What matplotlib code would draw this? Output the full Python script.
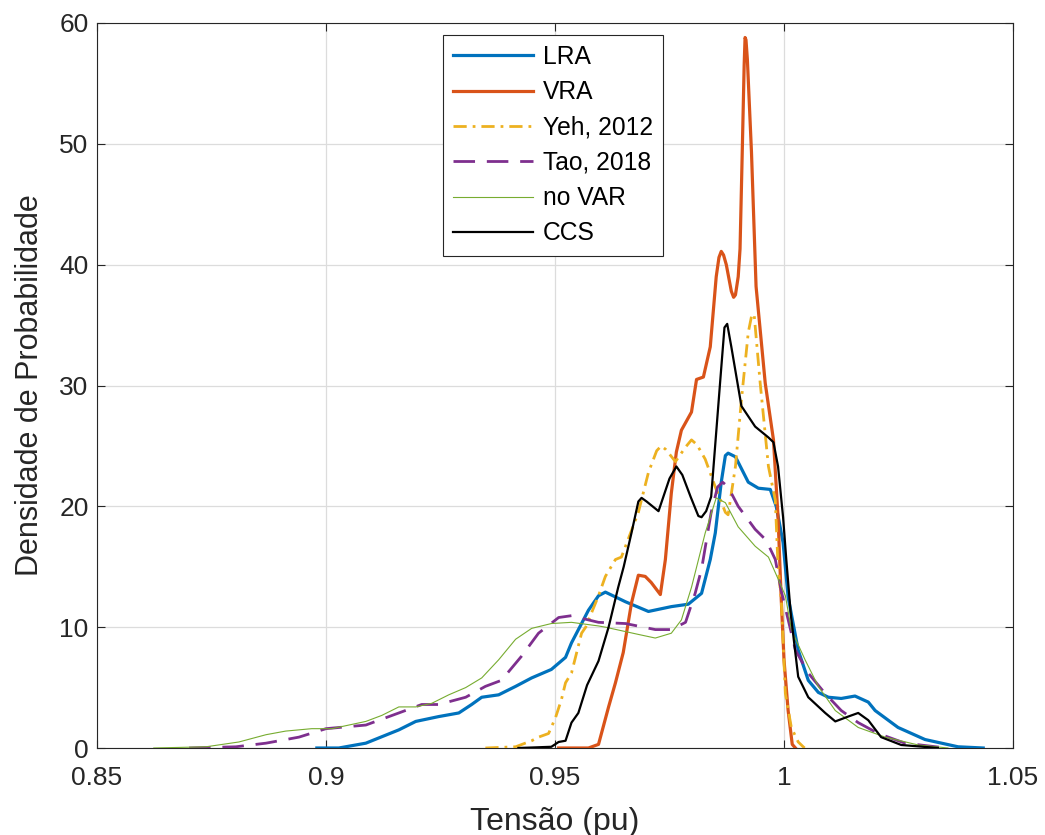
import matplotlib
matplotlib.use("Agg")
import matplotlib.pyplot as plt

plt.rcParams['font.family'] = ['Liberation Sans', 'DejaVu Sans']
plt.rcParams['lines.scale_dashes'] = False
plt.rcParams['lines.solid_joinstyle'] = 'round'
plt.rcParams['lines.dash_joinstyle'] = 'round'

# Estimated probability density of bus voltage (pu) for each method
lra_x = [0.8980, 0.9028, 0.9087, 0.9159, 0.9196, 0.9246, 0.9290, 0.9318, 0.9340,
         0.9377, 0.9414, 0.9449, 0.9492, 0.9523, 0.9536, 0.9558, 0.9573, 0.9595,
         0.9610, 0.9654, 0.9704, 0.9754, 0.9791, 0.9820, 0.9839, 0.9850, 0.9863,
         0.9872, 0.9878, 0.9894, 0.9922, 0.9944, 0.9970, 0.9983, 0.9998, 1.0009,
         1.0031, 1.0053, 1.0075, 1.0097, 1.0125, 1.0155, 1.0184, 1.0199, 1.0249,
         1.0308, 1.0380, 1.0435]
lra_y = [0.0, 0.0, 0.4, 1.5, 2.2, 2.6, 2.9, 3.6, 4.2,
         4.4, 5.1, 5.8, 6.5, 7.5, 8.7, 10.3, 11.4, 12.6,
         12.9, 12.1, 11.3, 11.7, 11.9, 12.8, 15.6, 17.8, 22.0,
         24.2, 24.4, 24.1, 22.0, 21.5, 21.4, 20.0, 17.0, 12.5,
         8.1, 5.6, 4.6, 4.2, 4.1, 4.3, 3.8, 3.1, 1.7,
         0.7, 0.1, 0.0]

vra_x = [0.9508, 0.9573, 0.9595, 0.9617, 0.9632, 0.9649, 0.9667, 0.9682, 0.9697,
         0.9710, 0.9730, 0.9741, 0.9754, 0.9765, 0.9776, 0.9798, 0.9809, 0.9824,
         0.9839, 0.9852, 0.9858, 0.9863, 0.9868, 0.9874, 0.9885, 0.9890, 0.9894,
         0.9900, 0.9904, 0.9909, 0.9913, 0.9915, 0.9917, 0.9920, 0.9929, 0.9939,
         0.9959, 0.9977, 0.9987, 0.9994, 1.0000, 1.0009, 1.0018, 1.0025]
vra_y = [0.0, 0.0, 0.3, 3.4, 5.4, 7.9, 12.0, 14.3, 14.2,
         13.7, 12.7, 15.6, 21.1, 24.5, 26.3, 27.8, 30.5, 30.7,
         33.2, 39.0, 40.6, 41.1, 40.8, 40.0, 37.8, 37.3, 37.5,
         39.0, 41.3, 49.6, 56.5, 58.8, 58.6, 57.0, 49.3, 38.2,
         30.2, 25.5, 19.1, 12.3, 7.3, 3.1, 0.3, 0.0]

yeh_x = [0.9348, 0.9414, 0.9449, 0.9464, 0.9486, 0.9501, 0.9514, 0.9523, 0.9536,
         0.9558, 0.9567, 0.9595, 0.9610, 0.9632, 0.9645, 0.9682, 0.9704, 0.9722,
         0.9732, 0.9742, 0.9763, 0.9785, 0.9798, 0.9810, 0.9828, 0.9850, 0.9872,
         0.9878, 0.9894, 0.9907, 0.9922, 0.9930, 0.9935, 0.9948, 0.9966, 0.9981,
         0.9987, 0.9994, 1.0003, 1.0016, 1.0031, 1.0042, 1.0045]
yeh_y = [0.0, 0.1, 0.6, 0.9, 1.2, 2.5, 4.0, 5.4, 6.2,
         9.5, 10.0, 12.6, 14.2, 15.6, 15.8, 19.5, 22.8, 24.6,
         25.0, 24.7, 23.7, 24.9, 25.5, 25.1, 23.9, 21.6, 19.5,
         19.3, 23.3, 28.8, 34.4, 35.9, 35.8, 30.2, 23.3, 20.5,
         15.0, 12.3, 4.5, 1.7, 0.5, 0.1, 0.0]

tao_x = [0.8701, 0.8803, 0.8869, 0.8941, 0.9000, 0.9087, 0.9159, 0.9209, 0.9246,
         0.9305, 0.9348, 0.9383, 0.9427, 0.9464, 0.9508, 0.9536, 0.9573, 0.9595,
         0.9654, 0.9719, 0.9754, 0.9785, 0.9806, 0.9820, 0.9841, 0.9855, 0.9866,
         0.9878, 0.9900, 0.9937, 0.9961, 0.9981, 0.9994, 1.0025, 1.0053, 1.0090,
         1.0125, 1.0162, 1.0206, 1.0264, 1.0343, 1.0358]
tao_y = [0.0, 0.1, 0.4, 0.9, 1.6, 1.9, 2.9, 3.6, 3.6,
         4.2, 5.1, 5.6, 7.6, 9.5, 10.8, 10.95, 10.6, 10.4,
         10.3, 9.8, 9.8, 10.4, 12.8, 14.8, 19.5, 21.6, 22.0,
         21.6, 20.0, 18.1, 17.2, 15.6, 13.0, 8.1, 6.2, 4.5,
         3.1, 2.1, 1.2, 0.4, 0.05, 0.0]

novar_x = [0.8624, 0.8738, 0.8810, 0.8869, 0.8912, 0.8969, 0.9013, 0.9087, 0.9122,
           0.9159, 0.9196, 0.9231, 0.9268, 0.9305, 0.9340, 0.9377, 0.9414, 0.9449,
           0.9492, 0.9536, 0.9595, 0.9610, 0.9682, 0.9719, 0.9754, 0.9776, 0.9798,
           0.9828, 0.9852, 0.9872, 0.9900, 0.9937, 0.9966, 0.9987, 1.0003, 1.0016,
           1.0046, 1.0075, 1.0112, 1.0162, 1.0221, 1.0293, 1.0358]
novar_y = [0.0, 0.1, 0.5, 1.1, 1.4, 1.6, 1.6, 2.2, 2.7,
           3.4, 3.4, 3.7, 4.4, 5.0, 5.8, 7.3, 9.0, 9.9,
           10.3, 10.4, 10.1, 10.0, 9.4, 9.1, 9.5, 10.6, 13.3,
           17.8, 20.7, 20.3, 18.3, 16.7, 15.8, 14.0, 12.6, 9.8,
           7.3, 5.1, 3.1, 1.7, 0.9, 0.25, 0.0]

ccs_x = [0.9420, 0.9492, 0.9508, 0.9523, 0.9536, 0.9551, 0.9570, 0.9595, 0.9617,
         0.9638, 0.9650, 0.9667, 0.9682, 0.9689, 0.9700, 0.9726, 0.9750, 0.9765,
         0.9778, 0.9796, 0.9813, 0.9820, 0.9830, 0.9841, 0.9861, 0.9870, 0.9876,
         0.9885, 0.9907, 0.9937, 0.9966, 0.9977, 0.9987, 0.9998, 1.0005, 1.0015,
         1.0031, 1.0053, 1.0090, 1.0112, 1.0140, 1.0162, 1.0184, 1.0212, 1.0256,
         1.0336]
ccs_y = [0.0, 0.1, 0.5, 0.6, 2.1, 2.9, 5.2, 7.2, 10.0,
         13.3, 15.0, 17.8, 20.4, 20.7, 20.4, 19.6, 22.3, 23.3,
         22.6, 20.8, 19.2, 19.1, 19.6, 20.8, 30.5, 34.8, 35.1,
         33.2, 28.3, 26.6, 25.7, 25.3, 23.3, 19.1, 15.6, 11.0,
         5.9, 4.2, 2.9, 2.2, 2.6, 2.9, 2.3, 0.9, 0.25,
         0.0]

x_ticks = [0.85, 0.9, 0.95, 1.0, 1.05]
x_tick_labels = ['0.85', '0.9', '0.95', '1', '1.05']
y_ticks = [0, 10, 20, 30, 40, 50, 60]

W, H = 1045, 835
fig = plt.figure(figsize=(W / 100, H / 100), dpi=100)
ax = fig.add_axes([97 / W, 1 - 748 / H, (1013 - 97) / W, (748 - 23) / H])

ink = '#262626'
ax.plot(lra_x, lra_y, color='#0072BD', lw=2.3, label='LRA', zorder=3)
ax.plot(vra_x, vra_y, color='#D95319', lw=2.3, label='VRA', zorder=3)
ax.plot(yeh_x, yeh_y, color='#EDB120', lw=2.0, label='Yeh, 2012',
        linestyle=(0, (9.5, 4.3, 2.0, 4.3)), zorder=3)
ax.plot(tao_x, tao_y, color='#7E2F8E', lw=2.0, label='Tao, 2018',
        linestyle=(0, (15.5, 8.5)), zorder=3)
ax.plot(novar_x, novar_y, color='#77AC30', lw=0.8, label='no VAR', zorder=3)
ax.plot(ccs_x, ccs_y, color='black', lw=1.6, label='CCS', zorder=3)

ax.set_xlim(0.85, 1.05)
ax.set_ylim(0, 60)
ax.set_xticks(x_ticks)
ax.set_xticklabels(x_tick_labels)
ax.set_yticks(y_ticks)

ax.grid(True, color='#dcdcdc', lw=0.9)
ax.set_axisbelow(True)
for s in ax.spines.values():
    s.set_color(ink)
    s.set_linewidth(0.8)
ax.tick_params(direction='in', length=6, width=0.8, colors=ink,
               labelsize=19, top=True, right=True)
ax.tick_params(axis='x', pad=13)
ax.tick_params(axis='y', pad=6)

ax.set_xlabel('Tensão (pu)', fontsize=23, color=ink, labelpad=12)
ax.set_ylabel('Densidade de Probabilidade', fontsize=22, color=ink, labelpad=10)

leg = ax.legend(loc='upper left', bbox_to_anchor=(0.3777, 0.984), fontsize=17.7,
                handlelength=3.25, handletextpad=0.4, labelspacing=0.46,
                borderpad=0.42, fancybox=False, framealpha=1, edgecolor=ink,
                borderaxespad=0)
leg.get_frame().set_linewidth(0.8)
for t in leg.get_texts():
    t.set_color('black')

fig.savefig('out.png', dpi=100)
